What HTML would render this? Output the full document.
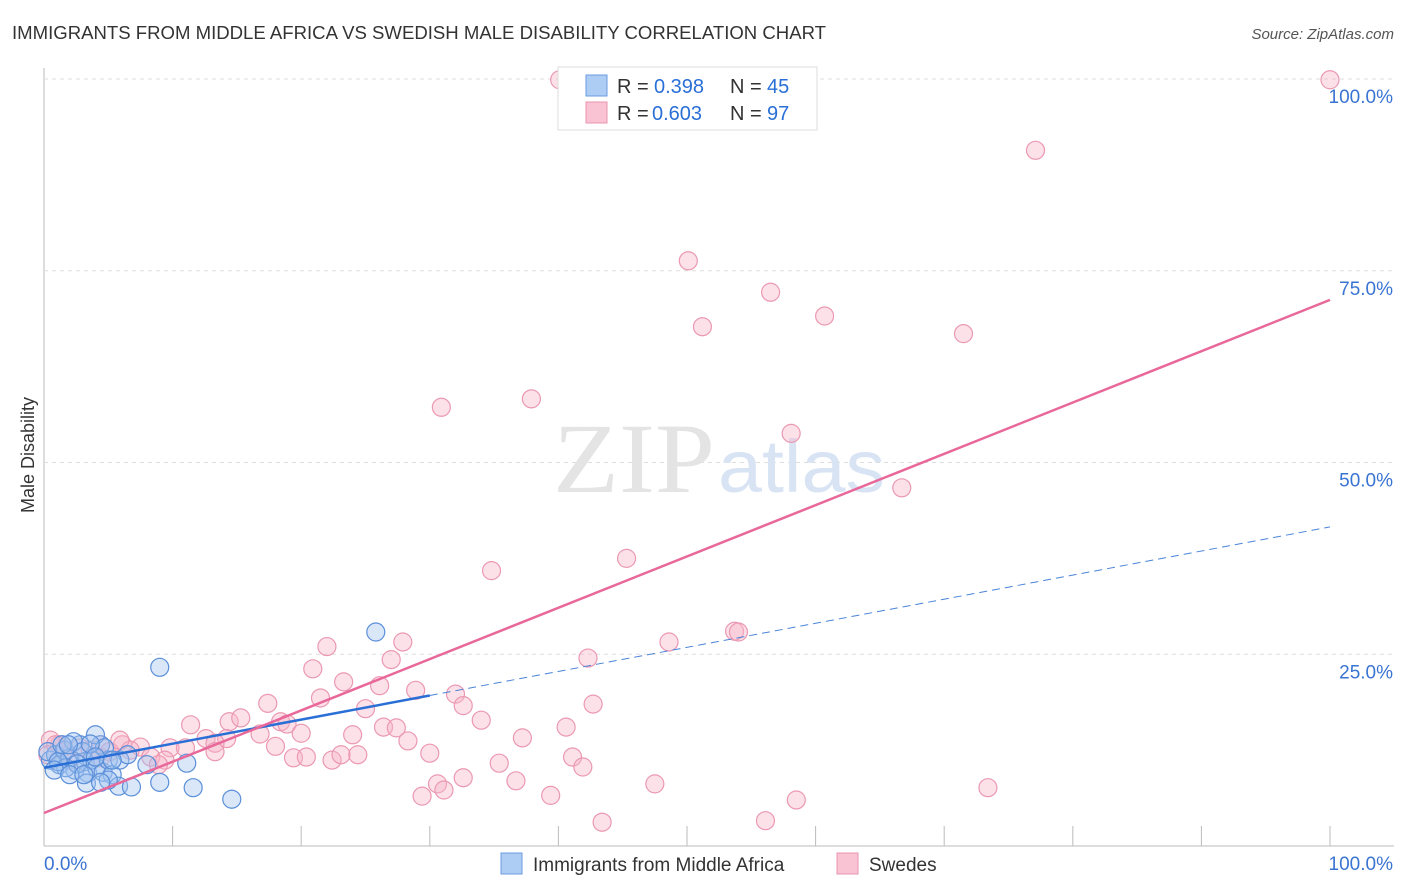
<!DOCTYPE html>
<html><head><meta charset="utf-8">
<style>
body{margin:0;background:#fff;font-family:"Liberation Sans",sans-serif;}
#wrap{position:relative;width:1406px;height:892px;overflow:hidden;}
</style></head>
<body>
<div id="wrap">
<svg id="svg" width="1406" height="892" xmlns="http://www.w3.org/2000/svg">
<text x="12" y="39" font-size="18" fill="#333" textLength="814" lengthAdjust="spacingAndGlyphs">IMMIGRANTS FROM MIDDLE AFRICA VS SWEDISH MALE DISABILITY CORRELATION CHART</text>
<text x="1394" y="39" font-size="15" fill="#555" font-style="italic" text-anchor="end">Source: ZipAtlas.com</text>
<text transform="translate(34,455) rotate(-90)" font-size="18" fill="#333" text-anchor="middle">Male Disability</text>
<g id="grid"></g>
<text x="553" y="492" font-size="100" fill="#e4e4e4" font-family="Liberation Serif,serif" textLength="162" lengthAdjust="spacingAndGlyphs">ZIP</text>
<text x="718" y="492" font-size="74" fill="#d8e4f4" textLength="167" lengthAdjust="spacingAndGlyphs">atlas</text>
<g id="marks"></g>
<g>
<rect x="558" y="67" width="259" height="63" fill="#fff" stroke="#ddd"/>
<rect x="586" y="75" width="21" height="21" fill="#aecdf5" stroke="#6a9be0"/>
<rect x="586" y="102" width="21" height="21" fill="#f9c3d3" stroke="#e995b0"/>
<text x="617" y="93" font-size="20" fill="#333">R =</text>
<text x="654" y="93" font-size="20" fill="#2a6fd6">0.398</text>
<text x="730" y="93" font-size="20" fill="#333">N =</text>
<text x="767" y="93" font-size="20" fill="#2a6fd6">45</text>
<text x="617" y="120" font-size="20" fill="#333">R =</text>
<text x="652" y="120" font-size="20" fill="#2a6fd6">0.603</text>
<text x="730" y="120" font-size="20" fill="#333">N =</text>
<text x="767" y="120" font-size="20" fill="#2a6fd6">97</text>
</g>
<g>
<rect x="501" y="853" width="21" height="21" fill="#aecdf5" stroke="#6a9be0"/>
<text x="533" y="871" font-size="19" fill="#333">Immigrants from Middle Africa</text>
<rect x="837" y="853" width="21" height="21" fill="#f9c3d3" stroke="#e995b0"/>
<text x="869" y="871" font-size="19" fill="#333">Swedes</text>
</g>
</svg>
</div>
<script>
const blueX=[0.5,0.9,1.2,0.3,1.6,2.0,2.4,2.8,3.2,3.4,3.7,4.1,4.4,4.6,5.0,5.3,5.8,3.3,4.0,2.3,6.8,9.0,11.6,14.6,11.1,9.0,25.8,4.7,1.7,1.1,3.0,3.6,2.6,1.4,0.8,5.9,6.5,8.0,5.0,4.4,2.0,4.0,3.1,5.3,1.9];
const blueY=[11.2,11.9,10.6,12.3,12.5,11.5,9.9,13.2,11.0,9.5,11.2,10.2,13.2,9.6,11.2,9.3,7.8,8.2,14.5,13.6,7.7,8.3,7.6,6.1,10.8,23.3,27.9,12.8,10.2,11.0,12.3,13.3,10.7,13.2,9.9,11.2,11.9,10.6,8.6,8.3,9.3,11.6,9.3,11.2,13.2];
const pinkX=[40.1,100,77.1,50.1,56.5,60.7,51.2,71.5,30.9,37.9,58.1,66.7,45.3,34.8,22.0,27.9,27.0,20.9,23.3,26.1,28.9,21.5,32.0,32.6,17.4,25.0,42.7,42.3,48.6,53.7,54.0,34.0,40.6,26.4,27.4,11.4,14.4,15.3,18.4,18.9,20.0,24.0,37.2,28.3,12.6,14.2,16.8,18.0,9.8,11.0,13.3,7.5,6.1,4.4,2.8,1.2,0.5,8.3,9.4,13.3,19.4,20.4,22.4,23.1,24.4,30.0,35.4,41.1,41.9,30.6,32.6,36.7,39.4,29.4,31.1,47.5,58.5,73.4,43.4,56.1,0.9,1.6,3.6,5.1,6.7,0.3,2.0,4.4,8.9,5.9];
const pinkY=[99.9,99.9,90.7,76.3,72.2,69.1,67.7,66.8,57.2,58.3,53.8,46.7,37.5,35.9,26.0,26.6,24.3,23.1,21.4,20.9,20.3,19.3,19.8,18.3,18.6,17.9,18.5,24.5,26.6,28.0,27.9,16.4,15.5,15.5,15.4,15.8,16.2,16.7,16.2,15.9,14.7,14.5,14.1,13.7,14.0,14.0,14.6,13.0,12.8,12.8,13.4,12.9,13.2,13.2,12.8,13.2,13.8,11.6,11.2,12.3,11.5,11.6,11.2,11.9,11.9,12.1,10.8,11.6,10.3,8.1,8.9,8.5,6.6,6.5,7.3,8.1,6.0,7.6,3.1,3.3,13.2,12.3,12.5,12.3,12.5,11.9,11.2,11.5,10.6,13.8];
const blueTrend=[10.2,41.6];
const pinkTrend=[4.3,71.2];
const yTicks=[25,50,75,100];
const yTickLabels=["25.0%","50.0%","75.0%","100.0%"];
const xTicks=[0,10,20,30,40,50,60,70,80,90,100];

const NS="http://www.w3.org/2000/svg";
const X=v=>44+v*12.86;
const Y=v=>846-v*7.67;
function mk(tag,attrs,parent){const e=document.createElementNS(NS,tag);for(const k in attrs)e.setAttribute(k,attrs[k]);parent.appendChild(e);return e;}
const grid=document.getElementById('grid');
const marks=document.getElementById('marks');
let ax=mk('line',{x1:44,y1:68,x2:44,y2:846,stroke:'#bbb'},grid);


let bx=mk('line',{x1:44,y1:846,x2:1394,y2:846,stroke:'#bbb'},grid);


yTicks.forEach((t,i)=>{
  const g=mk('line',{x1:44,y1:Y(t),x2:1394,y2:Y(t),stroke:'#ddd','stroke-dasharray':'4,4'},grid);
  
  
  const l=mk('text',{x:1393,y:Y(t)+24,'font-size':19,fill:'#3a74d2','text-anchor':'end'},grid);
  l.textContent=yTickLabels[i];
  
  
});
xTicks.forEach(t=>{
  if(t===0)return;
  const k=mk('line',{x1:X(t),y1:826,x2:X(t),y2:846,stroke:'#bbb'},grid);
  
  
});
let x0=mk('text',{x:44,y:870,'font-size':19,fill:'#3a74d2'},grid);x0.textContent='0.0%';


let x1=mk('text',{x:1393,y:870,'font-size':19,fill:'#3a74d2','text-anchor':'end'},grid);x1.textContent='100.0%';



pinkX.forEach((v,i)=>{
  const c=mk('circle',{cx:X(v),cy:Y(pinkY[i]),r:9,fill:'rgba(248,180,200,0.4)',stroke:'#eb98b3','stroke-width':1.2},marks);
  
  
});
blueX.forEach((v,i)=>{
  const c=mk('circle',{cx:X(v),cy:Y(blueY[i]),r:9,fill:'rgba(160,196,240,0.4)',stroke:'#5b8fd9','stroke-width':1.2},marks);
  
  
});
const bAt=x=>blueTrend[0]+(blueTrend[1]-blueTrend[0])*x/100;
let bd=mk('line',{x1:X(30),y1:Y(bAt(30)),x2:X(100),y2:Y(bAt(100)),stroke:'#4a84d8','stroke-width':1,'stroke-dasharray':'8,5'},marks);


let bl=mk('line',{x1:X(0),y1:Y(bAt(0)),x2:X(30),y2:Y(bAt(30)),stroke:'#2a6fd6','stroke-width':2.5},marks);


let pl=mk('line',{x1:X(0),y1:Y(pinkTrend[0]),x2:X(100),y2:Y(pinkTrend[1]),stroke:'#e8689a','stroke-width':2.5},marks);


</script>
</body></html>
